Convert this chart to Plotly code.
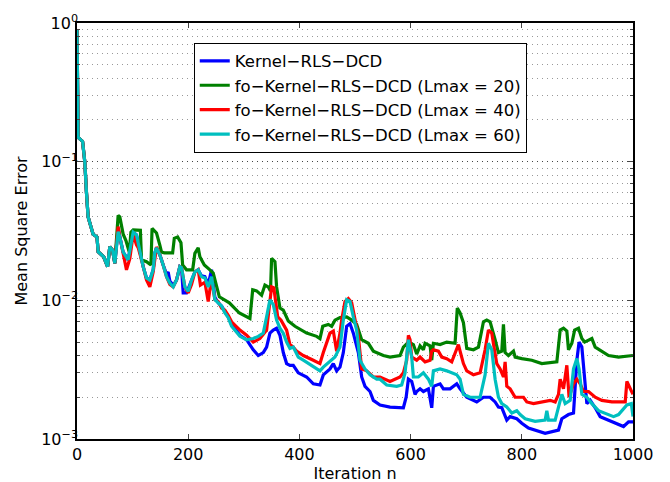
import plotly.graph_objects as go

# ---- data ----
start_n = [0, 2, 10, 14, 17, 20, 25, 29, 36, 38, 48, 52, 55, 59, 64, 68]
start_v = [0.9, 0.15, 0.14, 0.10, 0.06, 0.040, 0.034, 0.030, 0.0286, 0.0224, 0.0206, 0.0185, 0.0175, 0.0244, 0.023, 0.0185]

blue_n = [74, 77, 83, 92, 98, 101, 107, 110, 117, 119, 125, 131, 137, 140, 143, 149, 155, 161, 164, 167, 173, 179, 185, 188, 191, 197, 203, 212, 218, 224, 230, 236, 242, 248, 254, 260, 266, 272, 278, 293, 305, 317, 326, 335, 341, 347, 353, 359, 365, 371, 377, 383, 389, 398, 413, 425, 437, 443, 455, 461, 467, 473, 479, 485, 491, 497, 506, 512, 518, 527, 533, 545, 563, 581, 587, 592, 596, 602, 608, 611, 617, 623, 632, 638, 641, 653, 659, 671, 683, 689, 701, 719, 731, 743, 752, 758, 764, 773, 779, 791, 800, 812, 824, 842, 866, 872, 884, 893, 899, 903, 908, 913, 917, 923, 932, 941, 956, 968, 983, 992, 1000]
blue_v = [0.033, 0.0287, 0.0223, 0.0196, 0.026, 0.031, 0.0296, 0.026, 0.0202, 0.0175, 0.0145, 0.0140, 0.0166, 0.022, 0.0239, 0.0213, 0.018, 0.0155, 0.016, 0.0138, 0.0128, 0.014, 0.0175, 0.0172, 0.0113, 0.0113, 0.013, 0.016, 0.0166, 0.015, 0.0148, 0.013, 0.0166, 0.0105, 0.0096, 0.0091, 0.0083, 0.0076, 0.0067, 0.0056, 0.0052, 0.0044, 0.0040, 0.0042, 0.0046, 0.0058, 0.0061, 0.0063, 0.0056, 0.0042, 0.0035, 0.0034, 0.0034, 0.0030, 0.0028, 0.0025, 0.00245, 0.0029, 0.0032, 0.0035, 0.0031, 0.0033, 0.0042, 0.0065, 0.0068, 0.0058, 0.0042, 0.0028, 0.0024, 0.0022, 0.0019, 0.00176, 0.0017, 0.0017, 0.00168, 0.0020, 0.0027, 0.0026, 0.0021, 0.0022, 0.0023, 0.0022, 0.0023, 0.00168, 0.0024, 0.0025, 0.0023, 0.0023, 0.0025, 0.0023, 0.0020, 0.00185, 0.0020, 0.0020, 0.00185, 0.0017, 0.00168, 0.00137, 0.00145, 0.0014, 0.0013, 0.0012, 0.00116, 0.0011, 0.00116, 0.0014, 0.0015, 0.00154, 0.0037, 0.0050, 0.0046, 0.0027, 0.0018, 0.0019, 0.00168, 0.00145, 0.00137, 0.0013, 0.00123, 0.00133, 0.00133]

green_n = [74, 77, 83, 88, 94, 97, 101, 114, 116, 125, 133, 135, 143, 149, 152, 157, 172, 175, 181, 187, 190, 197, 208, 212, 218, 221, 229, 239, 245, 256, 274, 292, 311, 316, 323, 332, 338, 344, 348, 350, 356, 359, 362, 365, 371, 380, 392, 413, 431, 437, 442, 452, 458, 464, 473, 485, 494, 503, 512, 524, 533, 551, 563, 581, 587, 596, 605, 611, 617, 623, 626, 635, 638, 641, 653, 665, 680, 684, 689, 695, 701, 713, 722, 731, 737, 743, 752, 758, 764, 767, 770, 776, 785, 788, 800, 818, 836, 863, 869, 875, 881, 884, 890, 895, 902, 908, 913, 920, 926, 932, 944, 956, 974, 1000]
green_v = [0.041, 0.040, 0.030, 0.027, 0.0223, 0.031, 0.0322, 0.032, 0.0196, 0.019, 0.018, 0.033, 0.0306, 0.025, 0.0223, 0.022, 0.022, 0.028, 0.0286, 0.026, 0.018, 0.0166, 0.0166, 0.0218, 0.0239, 0.0206, 0.018, 0.0166, 0.0157, 0.0106, 0.0096, 0.0081, 0.0074, 0.0119, 0.0117, 0.0109, 0.0129, 0.0125, 0.0117, 0.0201, 0.0190, 0.0125, 0.0106, 0.0088, 0.0085, 0.0071, 0.0065, 0.0058, 0.0055, 0.0053, 0.0065, 0.0067, 0.0065, 0.0072, 0.0075, 0.0076, 0.0072, 0.0067, 0.0052, 0.0049, 0.0043, 0.0040, 0.0039, 0.0040, 0.0046, 0.0050, 0.0048, 0.0041, 0.0047, 0.0044, 0.0049, 0.0047, 0.0037, 0.0049, 0.0048, 0.0050, 0.0049, 0.0088, 0.0081, 0.0069, 0.0045, 0.0044, 0.0046, 0.0070, 0.0072, 0.0070, 0.0052, 0.0042, 0.0043, 0.0067, 0.0042, 0.0040, 0.0043, 0.0039, 0.0038, 0.0037, 0.0035, 0.0036, 0.0061, 0.0063, 0.0060, 0.0044, 0.0049, 0.0061, 0.0063, 0.0053, 0.0050, 0.0052, 0.0053, 0.0046, 0.0043, 0.0040, 0.0039, 0.0040]

red_n = [74, 77, 83, 89, 95, 101, 107, 110, 117, 119, 125, 131, 137, 143, 149, 155, 161, 167, 173, 179, 185, 188, 194, 200, 206, 212, 218, 222, 230, 236, 242, 248, 254, 260, 266, 272, 278, 293, 305, 317, 329, 341, 347, 350, 354, 357, 361, 367, 377, 383, 389, 395, 407, 425, 437, 443, 449, 455, 461, 467, 473, 476, 482, 488, 494, 500, 506, 512, 521, 533, 545, 563, 581, 587, 593, 596, 599, 602, 611, 617, 626, 635, 638, 641, 650, 656, 665, 674, 683, 686, 689, 695, 701, 713, 725, 734, 740, 746, 750, 755, 761, 767, 770, 773, 779, 788, 803, 809, 821, 839, 851, 860, 866, 869, 875, 881, 885, 893, 899, 905, 911, 920, 926, 932, 944, 962, 986, 989, 993, 1000]
red_v = [0.034, 0.0287, 0.0223, 0.0166, 0.020, 0.030, 0.0251, 0.024, 0.019, 0.0175, 0.014, 0.0125, 0.016, 0.0243, 0.0213, 0.018, 0.0148, 0.013, 0.0125, 0.014, 0.0175, 0.0172, 0.0125, 0.0113, 0.013, 0.016, 0.0166, 0.0129, 0.0135, 0.0098, 0.0145, 0.0101, 0.0098, 0.0088, 0.0085, 0.0078, 0.0070, 0.0061, 0.0056, 0.0050, 0.0053, 0.0061, 0.0096, 0.0125, 0.0123, 0.0098, 0.0076, 0.0072, 0.0061, 0.0048, 0.0046, 0.0043, 0.0040, 0.0037, 0.0035, 0.0042, 0.0049, 0.0058, 0.0060, 0.0043, 0.0058, 0.0072, 0.0098, 0.0103, 0.0096, 0.0072, 0.0055, 0.0032, 0.0031, 0.0028, 0.0028, 0.0026, 0.0028, 0.0030, 0.0037, 0.0056, 0.0052, 0.0039, 0.0037, 0.0039, 0.0036, 0.0037, 0.0043, 0.0044, 0.0043, 0.0039, 0.0038, 0.0036, 0.0046, 0.0048, 0.0043, 0.0035, 0.0031, 0.0029, 0.0030, 0.0044, 0.0061, 0.0058, 0.0046, 0.0035, 0.0032, 0.0028, 0.0036, 0.0024, 0.0023, 0.0020, 0.0020, 0.00185, 0.0018, 0.00185, 0.0019, 0.00185, 0.0021, 0.0027, 0.0023, 0.0034, 0.0020, 0.0025, 0.0027, 0.0025, 0.0022, 0.0022, 0.0021, 0.0020, 0.0019, 0.00185, 0.00185, 0.0026, 0.0024, 0.0021]

cyan_n = [74, 77, 83, 92, 98, 101, 107, 110, 117, 119, 125, 131, 137, 140, 143, 149, 155, 161, 167, 173, 179, 185, 188, 194, 200, 206, 212, 218, 224, 230, 236, 242, 248, 254, 260, 266, 272, 278, 293, 305, 317, 326, 335, 341, 347, 353, 359, 365, 371, 377, 383, 389, 398, 407, 425, 437, 443, 455, 464, 473, 479, 485, 491, 497, 503, 509, 518, 527, 539, 545, 557, 575, 584, 590, 596, 602, 605, 614, 623, 632, 638, 641, 653, 665, 683, 689, 695, 707, 725, 734, 740, 746, 752, 758, 764, 773, 782, 791, 797, 806, 824, 842, 845, 848, 860, 866, 872, 878, 887, 893, 899, 903, 908, 917, 926, 938, 950, 965, 974, 989, 997, 1000]
cyan_v = [0.0313, 0.0287, 0.0223, 0.0196, 0.026, 0.031, 0.0296, 0.026, 0.0202, 0.0175, 0.0145, 0.0140, 0.0166, 0.022, 0.0239, 0.0213, 0.018, 0.0148, 0.0133, 0.0125, 0.014, 0.0175, 0.0172, 0.0125, 0.0116, 0.014, 0.016, 0.0166, 0.0148, 0.0145, 0.0125, 0.0148, 0.0101, 0.0096, 0.0091, 0.0081, 0.0075, 0.0065, 0.0055, 0.0052, 0.0053, 0.0055, 0.0058, 0.0076, 0.0101, 0.0093, 0.0072, 0.0063, 0.0058, 0.0050, 0.0045, 0.0046, 0.0039, 0.0037, 0.0033, 0.0031, 0.0033, 0.0036, 0.0039, 0.0046, 0.0072, 0.0101, 0.0098, 0.0076, 0.0061, 0.0037, 0.0032, 0.0029, 0.0027, 0.0027, 0.00245, 0.0024, 0.00245, 0.0030, 0.0052, 0.0039, 0.0028, 0.0028, 0.0030, 0.0027, 0.0024, 0.0031, 0.0032, 0.0031, 0.0029, 0.0027, 0.0021, 0.0020, 0.0020, 0.0029, 0.0049, 0.0044, 0.0027, 0.0020, 0.0018, 0.0017, 0.00154, 0.0016, 0.0015, 0.0014, 0.00134, 0.00137, 0.0016, 0.00137, 0.00137, 0.0017, 0.0021, 0.0018, 0.0019, 0.0032, 0.0038, 0.0032, 0.0021, 0.0020, 0.0018, 0.0016, 0.00154, 0.00145, 0.0015, 0.00176, 0.0018, 0.00145]

names = ["Kernel−RLS−DCD",
         "fo−Kernel−RLS−DCD (Lmax = 20)",
         "fo−Kernel−RLS−DCD (Lmax = 40)",
         "fo−Kernel−RLS−DCD (Lmax = 60)"]
colors = ["#0000FF", "#008000", "#FF0000", "#00BFBF"]

x_ticks = [0, 200, 400, 600, 800, 1000]
y_ticks = [1e-3, 1e-2, 1e-1, 1e0]
y_tick_text = ["10<sup>−3</sup>", "10<sup>−2</sup>", "10<sup>−1</sup>", "10<sup>0</sup>"]
y_minor = [m * 10.0 ** e for e in (-3, -2, -1) for m in range(2, 10)]

series = [(blue_n, blue_v), (green_n, green_v), (red_n, red_v), (cyan_n, cyan_v)]

fig = go.Figure()
for i, (xs, ys) in enumerate(series):
    fig.add_trace(go.Scatter(
        x=start_n + xs, y=start_v + ys, mode="lines", name=names[i],
        line=dict(color=colors[i], width=3.2)))

font = dict(family="DejaVu Sans, sans-serif", size=16, color="black")
# the page body adds an 8px offset, so margins are shifted by 8px up/left
fig.update_layout(
    width=670, height=482,
    margin=dict(l=69, r=45, t=15, b=51, autoexpand=False),
    paper_bgcolor="white", plot_bgcolor="white",
    font=font,
    showlegend=True,
    legend=dict(x=0.21, y=0.953, xanchor="left", yanchor="top",
                bgcolor="white", bordercolor="black", borderwidth=1,
                font=dict(family="DejaVu Sans, sans-serif", size=16.5, color="black"),
                tracegroupgap=0),
)
fig.update_xaxes(range=[0, 1000], tickvals=x_ticks, ticks="inside", ticklen=5,
                 showline=True, linecolor="black", linewidth=1.5, mirror="allticks",
                 showgrid=False, zeroline=False, automargin=False,
                 title=dict(text="Iteration n", standoff=0, font=font),
                 tickfont=font)
fig.update_yaxes(type="log", range=[-3, 0], tickvals=y_ticks, ticktext=y_tick_text,
                 ticks="inside", ticklen=5, ticklabelstandoff=-6,
                 showline=True, linecolor="black", linewidth=1.5, mirror="allticks",
                 showgrid=True, gridcolor="#444444", griddash="1px,4px", gridwidth=1,
                 zeroline=False, automargin=False,
                 minor=dict(tickvals=y_minor, ticks="inside", ticklen=3,
                            showgrid=True, gridcolor="#999999", griddash="1px,4px", gridwidth=1),
                 title=dict(text="Mean Square Error", standoff=10, font=font),
                 tickfont=font)

fig.write_html("out.html")
